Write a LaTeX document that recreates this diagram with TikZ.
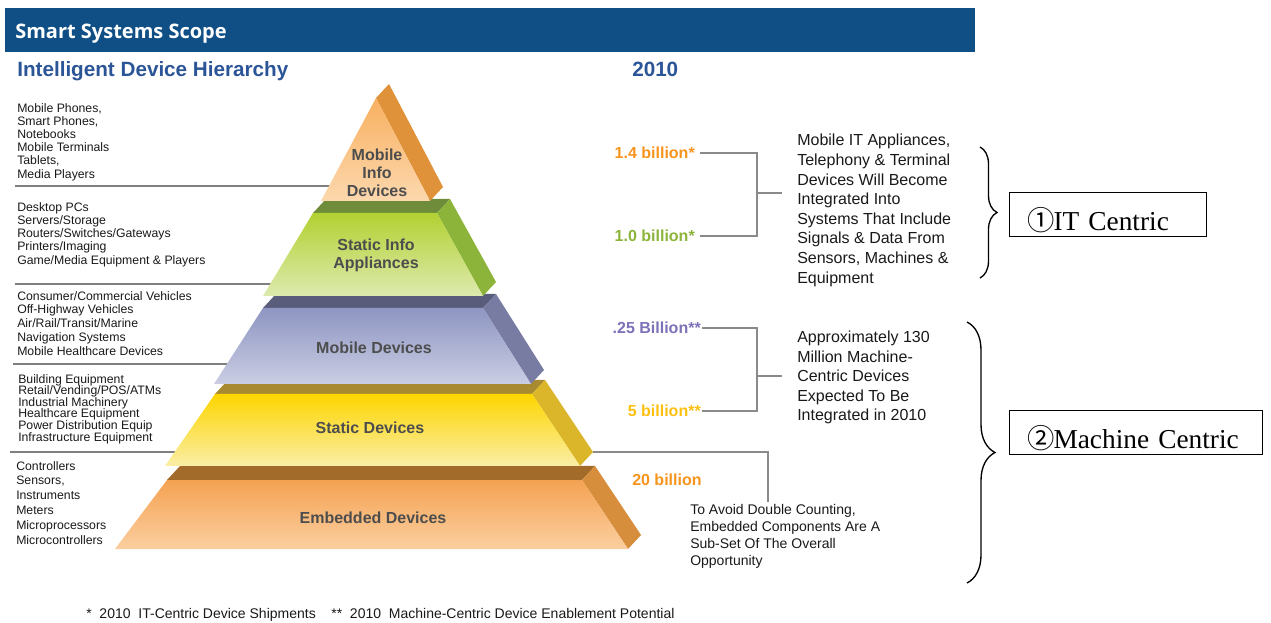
\documentclass[tikz,border=0pt]{standalone}
\usepackage{fontspec}
\setmainfont{Liberation Sans}
\newfontfamily\headfont{Open Sans}
\newfontfamily\boxserif{Liberation Serif}
\newfontfamily\circfont{Noto Sans CJK JP}
\usetikzlibrary{decorations.pathreplacing}

\definecolor{barBlue}{HTML}{0F4F85}
\definecolor{titleBlue}{HTML}{2B5597}
\definecolor{tierText}{HTML}{4D4D4D}
\definecolor{leadGray}{HTML}{8A8A8A}
\definecolor{sepGray}{HTML}{7F7F7F}
\definecolor{numOrange}{HTML}{F7941D}
\definecolor{numGreen}{HTML}{8DB43A}
\definecolor{numPurple}{HTML}{7B72B8}
\definecolor{numYellow}{HTML}{FDC010}
% tier colours: front (top / bottom), top band, side
\definecolor{aTop}{HTML}{F8B060}\definecolor{aBot}{HTML}{FCD8AE}\definecolor{aSide}{HTML}{E0923A}
\definecolor{bTop}{HTML}{B2D132}\definecolor{bBot}{HTML}{DDEAAE}\definecolor{bBand}{HTML}{6E8C3A}\definecolor{bSide}{HTML}{8DB43A}
\definecolor{cTop}{HTML}{8E96C2}\definecolor{cBot}{HTML}{CACDE3}\definecolor{cBand}{HTML}{5A5C7C}\definecolor{cSide}{HTML}{787CA3}
\definecolor{dTop}{HTML}{FDD500}\definecolor{dBot}{HTML}{FAEEA6}\definecolor{dBand}{HTML}{A88B30}\definecolor{dSide}{HTML}{DCB62A}
\definecolor{eTop}{HTML}{F4A252}\definecolor{eBot}{HTML}{FBCFA0}\definecolor{eBand}{HTML}{A36B2A}\definecolor{eSide}{HTML}{D68D3C}

\tikzset{
  lst/.style={anchor=north west, align=left, inner sep=0pt, text=black!90},
  desc/.style={anchor=north west, align=left, inner sep=0pt, text=black!90},
  tierlabel/.style={align=center, inner sep=0pt, text=tierText,
    font=\bfseries\fontsize{12}{13.5}\selectfont},
  num/.style={inner sep=0pt, font=\bfseries\fontsize{12}{14}\selectfont},
  lead/.style={draw=leadGray, line width=0.9pt},
  sepline/.style={draw=sepGray, line width=1.1pt},
  catbox/.style={draw=black, line width=0.8pt, inner xsep=13.5pt, inner ysep=0pt,
    text height=28.5pt, text depth=4.5pt, align=left,
    font=\boxserif\fontsize{20.5}{22}\selectfont},
  brc/.style={draw=black, line width=1pt, decorate},
}

\begin{document}
\begin{tikzpicture}[x=0.75pt,y=-0.75pt]
\useasboundingbox (0,0) rectangle (1271,623);

% header bar and titles
\fill[barBlue] (5,8) rectangle (975,52);
\node[anchor=base west, inner sep=0pt, text=white, font=\headfont\bfseries\fontsize{15}{17}\selectfont] (hdr) at (15,39) {Smart Systems Scope};
\node[anchor=base west, inner sep=0pt, text=titleBlue, font=\bfseries\fontsize{15.5}{17}\selectfont] (ttl) at (17,77) {Intelligent Device Hierarchy};
\node[anchor=base west, inner sep=0pt, text=titleBlue, font=\bfseries\fontsize{15.5}{17}\selectfont] (yr) at (632,77) {2010};

% separators between the device lists (they run under the pyramid)
\draw[sepline] (15,186) -- (345,186);
\draw[sepline] (15,284) -- (285,284);
\draw[sepline] (13,364) -- (240,364);
\draw[sepline] (10,452) -- (190,452);

% pyramid, bottom tier first
% embedded devices
\fill[eBand] (167,480) -- (180,466) -- (595,466) -- (582,480) -- cycle;
\fill[eSide] (582,480) -- (595,466) -- (641,535) -- (628,549) -- cycle;
\shade[top color=eTop, bottom color=eBot] (167,480) -- (582,480) -- (628,549) -- (115,549) -- cycle;
% static devices
\fill[dBand] (215,394) -- (228,380) -- (545,380) -- (532,394) -- cycle;
\fill[dSide] (532,394) -- (545,380) -- (593,452) -- (580,466) -- cycle;
\shade[top color=dTop, bottom color=dBot] (215,394) -- (532,394) -- (580,466) -- (165,466) -- cycle;
% mobile devices
\fill[cBand] (263,308) -- (276,294) -- (496,294) -- (483,308) -- cycle;
\fill[cSide] (483,308) -- (496,294) -- (544,370) -- (531,384) -- cycle;
\shade[top color=cTop, bottom color=cBot] (263,308) -- (483,308) -- (531,384) -- (214,384) -- cycle;
% static info appliances
\fill[bBand] (313,213) -- (326,199) -- (450,199) -- (437,213) -- cycle;
\fill[bSide] (437,213) -- (450,199) -- (496,282) -- (483,296) -- cycle;
\shade[top color=bTop, bottom color=bBot] (313,213) -- (437,213) -- (483,296) -- (263,296) -- cycle;
% mobile info devices
\fill[aSide] (376,98) -- (389,84) -- (443,187) -- (430,201) -- cycle;
\shade[top color=aTop, bottom color=aBot] (376,98) -- (430,201) -- (321,201) -- cycle;

\coordinate (t4c) at (593,452);

% tier labels
\node[tierlabel] (l1) at (377,173) {Mobile\\Info\\Devices};
\node[tierlabel] (l2) at (376,255) {Static Info\\Appliances};
\node[tierlabel] (l3) at (374,348) {Mobile Devices};
\node[tierlabel] (l4) at (370,428) {Static Devices};
\node[tierlabel] (l5) at (373,518) {Embedded Devices};

% device lists
\node[lst, font=\fontsize{9.2}{9.9}\selectfont] (g1) at (17,103)
  {Mobile Phones,\\Smart Phones,\\Notebooks\\Mobile Terminals\\Tablets,\\Media Players};
\node[lst, font=\fontsize{9.2}{9.95}\selectfont] (g2) at (17,202)
  {Desktop PCs\\Servers/Storage\\Routers/Switches/Gateways\\Printers/Imaging\\Game/Media Equipment \& Players};
\node[lst, font=\fontsize{9.2}{10.3}\selectfont] (g3) at (17,291)
  {Consumer/Commercial Vehicles\\Off-Highway Vehicles\\Air/Rail/Transit/Marine\\Navigation Systems\\Mobile Healthcare Devices};
\node[lst, font=\fontsize{9.2}{8.7}\selectfont] (g4) at (18,374)
  {Building Equipment\\Retail/Vending/POS/ATMs\\Industrial Machinery\\Healthcare Equipment\\Power Distribution Equip\\Infrastructure Equipment};
\node[lst, font=\fontsize{9.2}{11.1}\selectfont] (g5) at (16,461)
  {Controllers\\Sensors,\\Instruments\\Meters\\Microprocessors\\Microcontrollers};

% shipment figures
\node[num, text=numOrange, anchor=east] (b14) at (695,153) {1.4 billion*};
\node[num, text=numGreen, anchor=east] (b10) at (695,236) {1.0 billion*};
\node[num, text=numPurple, anchor=east] (b025) at (701,328) {.25 Billion**};
\node[num, text=numYellow, anchor=east] (b5) at (701,411) {5 billion**};
\node[num, text=numOrange, anchor=west] (b20) at (632,480) {20 billion};

% explanations
\node[desc, font=\fontsize{12}{14.7}\selectfont] (itTxt) at (797,134)
  {Mobile IT Appliances,\\Telephony \& Terminal\\Devices Will Become\\Integrated Into\\Systems That Include\\Signals \& Data From\\Sensors, Machines \&\\Equipment};
\node[desc, font=\fontsize{12}{14.6}\selectfont] (mcTxt) at (797,331)
  {Approximately 130\\Million Machine-\\Centric Devices\\Expected To Be\\Integrated in 2010};
\node[desc, font=\fontsize{10.5}{12.75}\selectfont] (note) at (690,504)
  {To Avoid Double Counting,\\Embedded Components Are A\\Sub-Set Of The Overall\\Opportunity};

% leader lines
\coordinate (jIT) at (757,193);
\coordinate (jMC) at (757,376);
\coordinate (noteTop) at (768,502);
\draw[lead] ([xshift=4pt]b14.east) -- (b14.east -| jIT) -- (b10.east -| jIT) -- ([xshift=4pt]b10.east);
\draw[lead] (jIT) -- ([xshift=-11pt]itTxt.west |- jIT);
\draw[lead] ([xshift=1pt]b025.east) -- (b025.east -| jMC) -- (b5.east -| jMC) -- ([xshift=1pt]b5.east);
\draw[lead] (jMC) -- ([xshift=-11pt]mcTxt.west |- jMC);
\draw[lead] (t4c) -| (noteTop);

% categories
\draw[brc, decoration={brace, amplitude=12.75pt}] (980,147) -- (980,278);
\draw[brc, decoration={brace, amplitude=21pt}] (967,322) -- (967,583);
\node[catbox, anchor=north west, text width=120.75pt] (itBox) at (1009,192) {{\circfont ①}\kern-1pt IT Centric};
\node[catbox, anchor=north west, text width=162.75pt] (mcBox) at (1009,410) {{\circfont ②}\kern-1pt Machine Centric};

% footnote
\node[anchor=west, inner sep=0pt, text=black!90, font=\fontsize{10.5}{12}\selectfont] (foot) at (86,615)
  {*\ \ 2010\ \ IT-Centric Device Shipments\ \ \ \ **\ \ 2010\ \ Machine-Centric Device Enablement Potential};
\end{tikzpicture}
\end{document}
